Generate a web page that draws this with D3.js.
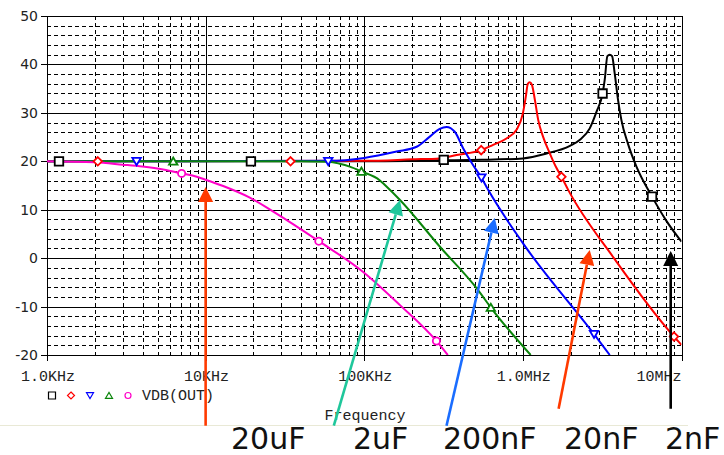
<!DOCTYPE html>
<html>
<head>
<meta charset="utf-8">
<script src="https://cdn.jsdelivr.net/npm/d3@7"></script>
<style>
  body { margin: 0; background: #fff; }
  svg { display: block; }
</style>
</head>
<body>
<div id="chart"></div>
<script>
// frequency in kHz, gain in dB (VDB(OUT))
const series2nF = [[1, 20], [100, 20], [300, 20.2], [550, 20.3], [1000, 20.6], [1410, 21.6], [1980, 23.2],
  [2280, 24.4], [2640, 26.8], [2910, 30.2], [3180, 34.0], [3280, 36.8], [3410, 41.7], [3530, 42.0],
  [3650, 41.7], [3790, 38.2], [3980, 32.7], [4180, 28.5], [4600, 23.6], [5200, 18.9],
  [6520, 12.7], [8030, 7.7], [10000, 3.4]];
const series20nF = [[1, 20], [100, 20.1], [200, 20.4], [300, 20.6], [382, 21.3], [546, 22.3], [649, 23.4],
  [788, 24.7], [912, 26.5], [1000, 29.9], [1043, 33.3], [1075, 36.0], [1105, 36.3], [1140, 35.8],
  [1190, 32.7], [1250, 28.5], [1340, 25.1], [1480, 21.6], [1630, 18.6], [1750, 16.8], [1930, 14.1],
  [3750, 0.0], [8970, -16.2], [10000, -17.9]];
const series200nF = [[1, 20], [60, 20.1], [100, 20.7], [160, 22.0], [214, 23.0], [259, 25.1], [299, 26.7],
  [330, 27.1], [372, 26.1], [420, 22.7], [486, 19.2], [548, 16.6], [604, 14.1], [1000, 3.1],
  [2810, -15.7], [3530, -20]];
const series2uF = [[1, 20], [40, 20], [60, 19.9], [70, 19.5], [81, 18.9], [96, 17.9], [125, 16.1],
  [135, 15.1], [168, 12.0], [299, 2.4], [522, -6.6], [628, -10.2], [1120, -20]];
const series20uF = [[1, 20], [2, 19.8], [3, 19.3], [4, 18.9], [5.4, 18.3], [7.06, 17.5], [8.8, 16.8],
  [10, 16.2], [12.9, 14.9], [19, 12.5], [26.7, 9.6], [51.7, 3.5], [98, -2.8], [168, -9.7],
  [285, -17.1], [336, -20]];

// trace markers as placed by the simulator
const marks2nF = [[1.19, 20], [19.3, 20], [317, 20.3], [3180, 34.0], [6520, 12.7]];
const marks20nF = [[2.09, 20], [34.3, 20], [546, 22.3], [1750, 16.8], [8970, -16.2]];
const marks200nF = [[3.67, 20], [59.3, 20], [548, 16.6], [2810, -15.7]];
const marks2uF = [[6.25, 20], [96, 17.9], [628, -10.2]];
const marks20uF = [[7.06, 17.5], [51.7, 3.5], [285, -17.1]];

const yTicks = [50, 40, 30, 20, 10, 0, -10, -20];
const xTicks = [1, 10, 100, 1000, 10000];
const xTickLabels = ['1.0KHz', '10KHz', '100KHz', '1.0MHz', '10MHz'];
const legendText = 'VDB(OUT)';
const axisTitle = 'Frequency';

// capacitor annotations: label, arrow tail and tip in (kHz, dB)
const capLabels = ['20uF', '2uF', '200nF', '20nF', '2nF'];
const arrowTails = [[10, -34.6], [64.3, -34.6], [330, -34.6], [1680, -31.1], [8550, -31.1]];
const arrowTips = [[10, 14.7], [168, 12.0], [665, 8.3], [2640, 1.7], [8550, 1.5]];

const width = 724;
const height = 455;

const x = d3.scaleLog().domain([1, 10000]).range([47, 681.5]);
const y = d3.scaleLinear().domain([-20, 50]).range([355, 16]);

const svg = d3.select('#chart').append('svg')
  .attr('width', width)
  .attr('height', height)
  .style('font-family', 'DejaVu Sans, sans-serif');

const x0 = x.range()[0], x1 = x.range()[1];
const y0 = y.range()[1], y1 = y.range()[0];
const px = v => Math.round(v) + 0.5;

// grid
const grid = svg.append('g').attr('shape-rendering', 'crispEdges');

const minorY = d3.range(-20, 51, 2).filter(v => v % 10 !== 0);
grid.selectAll('.hminor').data(minorY).enter().append('line')
  .attr('x1', x0).attr('x2', x1)
  .attr('y1', d => px(y(d))).attr('y2', d => px(y(d)))
  .attr('stroke', '#000').attr('stroke-dasharray', '4,3');

const minorX = [];
xTicks.slice(0, -1).forEach(t => { for (let k = 2; k < 10; k++) minorX.push(t * k); });
grid.selectAll('.vminor').data(minorX).enter().append('line')
  .attr('x1', d => px(x(d))).attr('x2', d => px(x(d)))
  .attr('y1', y0).attr('y2', y1)
  .attr('stroke', '#000').attr('stroke-dasharray', '4,3');

grid.selectAll('.hmajor').data(yTicks).enter().append('line')
  .attr('x1', x0 - 6).attr('x2', x1)
  .attr('y1', d => px(y(d))).attr('y2', d => px(y(d)))
  .attr('stroke', '#000');

grid.selectAll('.vmajor').data(xTicks).enter().append('line')
  .attr('x1', d => px(x(d))).attr('x2', d => px(x(d)))
  .attr('y1', y0).attr('y2', y1 + 6)
  .attr('stroke', '#000');

grid.append('line')
  .attr('x1', x0).attr('x2', x1).attr('y1', px(y0)).attr('y2', px(y0))
  .attr('stroke', '#000');

// y tick labels
svg.selectAll('.ylab').data(yTicks).enter().append('text')
  .attr('x', 38).attr('y', d => y(d)).attr('dy', '0.36em')
  .attr('text-anchor', 'end')
  .attr('font-size', 14).attr('fill', '#222')
  .text(d => d);

// x tick labels
const mono = 'Liberation Mono, DejaVu Sans Mono, monospace';
svg.selectAll('.xlab').data(xTicks).enter().append('text')
  .attr('x', (d, i) => i === xTicks.length - 1 ? x(d) : x(d) + 1)
  .attr('y', 381)
  .attr('text-anchor', (d, i) => i === xTicks.length - 1 ? 'end' : 'middle')
  .attr('font-family', mono).attr('font-size', 15).attr('fill', '#222')
  .text((d, i) => xTickLabels[i]);

svg.append('text')
  .attr('x', 365).attr('y', 420)
  .attr('text-anchor', 'middle')
  .attr('font-family', mono).attr('font-size', 15).attr('fill', '#222')
  .text(axisTitle);

// traces
svg.append('clipPath').attr('id', 'plot')
  .append('rect').attr('x', x0).attr('y', y0 - 2).attr('width', x1 - x0).attr('height', y1 - y0 + 2);

const line = d3.line()
  .x(d => x(d[0]))
  .y(d => y(d[1]))
  .curve(d3.curveMonotoneX);

const traces = [
  { data: series2nF, marks: marks2nF, color: '#000000', shape: 'square' },
  { data: series20nF, marks: marks20nF, color: '#ff0000', shape: 'diamond' },
  { data: series200nF, marks: marks200nF, color: '#0000ff', shape: 'down' },
  { data: series2uF, marks: marks2uF, color: '#0a850a', shape: 'up' },
  { data: series20uF, marks: marks20uF, color: '#ff00c8', shape: 'circle' }
];

function shapePath(shape, s) {
  const h = s / 2;
  if (shape === 'square') return `M${-h},${-h}H${h}V${h}H${-h}Z`;
  if (shape === 'diamond') return `M0,${-h}L${h},0L0,${h}L${-h},0Z`;
  if (shape === 'down') return `M${-h},${-h * 0.8}H${h}L0,${h * 0.9}Z`;
  return `M${-h},${h * 0.8}H${h}L0,${-h * 0.9}Z`;
}

const plot = svg.append('g').attr('clip-path', 'url(#plot)');

traces.forEach(t => {
  plot.append('path')
    .datum(t.data)
    .attr('d', line)
    .attr('fill', 'none')
    .attr('stroke', t.color)
    .attr('stroke-width', 2)
    .attr('stroke-linejoin', 'round');
});

traces.forEach(t => {
  const g = svg.append('g');
  if (t.shape === 'circle') {
    g.selectAll('circle').data(t.marks).enter().append('circle')
      .attr('cx', d => x(d[0])).attr('cy', d => y(d[1])).attr('r', 3.6)
      .attr('fill', '#fff').attr('stroke', t.color).attr('stroke-width', 1.8);
  } else {
    g.selectAll('path').data(t.marks).enter().append('path')
      .attr('transform', d => `translate(${x(d[0])},${y(d[1])})`)
      .attr('d', shapePath(t.shape, 8.5))
      .attr('fill', '#fff').attr('stroke', t.color).attr('stroke-width', 1.8);
  }
});

// legend
const legend = svg.append('g');
traces.forEach((t, i) => {
  const lx = 52 + i * 19, ly = 395.5;
  if (t.shape === 'circle') {
    legend.append('circle').attr('cx', lx).attr('cy', ly).attr('r', 3)
      .attr('fill', 'none').attr('stroke', t.color).attr('stroke-width', 1.2);
  } else {
    legend.append('path').attr('transform', `translate(${lx},${ly})`)
      .attr('d', shapePath(t.shape, 7))
      .attr('fill', 'none').attr('stroke', t.color).attr('stroke-width', 1.2);
  }
});
legend.append('text')
  .attr('x', 142).attr('y', 400)
  .attr('font-family', mono).attr('font-size', 15).attr('fill', '#222')
  .text(legendText);

// separator under the plot
svg.append('line')
  .attr('x1', 0).attr('x2', 688).attr('y1', 425.5).attr('y2', 425.5)
  .attr('stroke', '#e9e9d6');

// capacitor arrows
const arrowColors = ['#ff3a00', '#1fc79b', '#1a6dff', '#ff3a00', '#000000'];
arrowTails.forEach((tail, i) => {
  const ax = x(tail[0]), ay = y(tail[1]);
  const bx = x(arrowTips[i][0]), by = y(arrowTips[i][1]);
  const ang = Math.atan2(by - ay, bx - ax);
  const len = 15, half = 7.5;
  const baseX = bx - len * Math.cos(ang), baseY = by - len * Math.sin(ang);
  const nx = -Math.sin(ang), ny = Math.cos(ang);
  svg.append('line')
    .attr('x1', ax).attr('y1', ay).attr('x2', baseX).attr('y2', baseY)
    .attr('stroke', arrowColors[i]).attr('stroke-width', 2.6);
  svg.append('path')
    .attr('d', `M${bx},${by}L${baseX + nx * half},${baseY + ny * half}L${baseX - nx * half},${baseY - ny * half}Z`)
    .attr('fill', arrowColors[i]);
});

// capacitor labels
const labelX = [231, 353, 443, 564, 665];
svg.selectAll('.cap').data(capLabels).enter().append('text')
  .attr('x', (d, i) => labelX[i]).attr('y', 449)
  .attr('font-size', 30).attr('fill', '#111')
  .text(d => d);
</script>
</body>
</html>
